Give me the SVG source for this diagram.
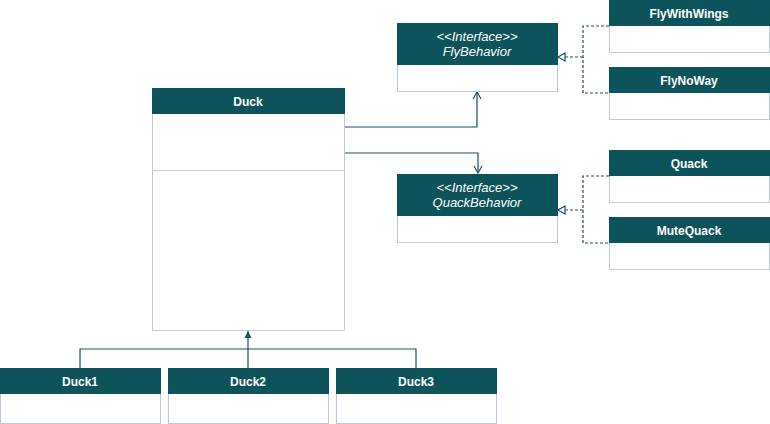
<svg xmlns="http://www.w3.org/2000/svg" width="770" height="424" viewBox="0 0 770 424">
<style>
.b{fill:#fff;stroke:#bccbd6;stroke-width:1}
.h{fill:#0d535b}
.t{fill:#fff;font-family:"Liberation Sans",Arial,sans-serif;font-size:12px;font-weight:bold;text-anchor:middle}
.i{fill:#fff;font-family:"Liberation Sans",Arial,sans-serif;font-size:13px;font-style:italic;text-anchor:middle}
.c{fill:none;stroke:#15506a;stroke-width:1.2}
.d{fill:none;stroke:#15506a;stroke-width:1.2;stroke-dasharray:3,2}
</style>
<defs>
<marker id="open" markerWidth="10" markerHeight="10" refX="8" refY="5" orient="auto" markerUnits="userSpaceOnUse"><path d="M1,1 L8,5 L1,9" fill="none" stroke="#15506a" stroke-width="1.2"/></marker>
<marker id="tri" markerWidth="10" markerHeight="10" refX="8" refY="5" orient="auto" markerUnits="userSpaceOnUse"><path d="M1,1 L8,5 L1,9 Z" fill="#fff" stroke="#15506a" stroke-width="1.2"/></marker>
<marker id="fill" markerWidth="10" markerHeight="10" refX="8" refY="5" orient="auto" markerUnits="userSpaceOnUse"><path d="M1,1.5 L8,5 L1,8.5 Z" fill="#15506a"/></marker>
</defs>
<g id="connectors">
<path class="c" d="M345,127 H477 V92" marker-end="url(#open)"/>
<path class="c" d="M345,153 H478 V173" marker-end="url(#open)"/>
<path class="d" d="M609,26 H583 V93 H609"/>
<path class="d" d="M583,57 H558" marker-end="url(#tri)"/>
<path class="d" d="M609,176 H583 V243 H609"/>
<path class="d" d="M583,210 H558" marker-end="url(#tri)"/>
<path class="c" d="M80,368 V349 H416 V368"/>
<path class="c" d="M248,368 V331" marker-end="url(#fill)"/>
</g>
<g id="FlyBehavior"><rect class="b" x="397.5" y="23.5" width="160" height="68"/><rect class="h" x="397" y="23" width="161" height="42"/><text class="i" x="477" y="41">&lt;&lt;Interface&gt;&gt;</text><text class="i" x="477" y="56">FlyBehavior</text></g>
<g id="QuackBehavior"><rect class="b" x="397.5" y="174.5" width="160" height="68"/><rect class="h" x="397" y="174" width="161" height="42"/><text class="i" x="477" y="192">&lt;&lt;Interface&gt;&gt;</text><text class="i" x="477" y="207">QuackBehavior</text></g>
<g id="FlyWithWings"><rect class="b" x="609.5" y="0.5" width="160" height="52"/><rect class="h" x="609" y="0" width="161" height="26"/><text class="t" x="689" y="18">FlyWithWings</text></g>
<g id="FlyNoWay"><rect class="b" x="609.5" y="67.5" width="160" height="52"/><rect class="h" x="609" y="67" width="161" height="26"/><text class="t" x="689" y="85">FlyNoWay</text></g>
<g id="Quack"><rect class="b" x="609.5" y="150.5" width="160" height="52"/><rect class="h" x="609" y="150" width="161" height="26"/><text class="t" x="689" y="168">Quack</text></g>
<g id="MuteQuack"><rect class="b" x="609.5" y="217.5" width="160" height="52"/><rect class="h" x="609" y="217" width="161" height="26"/><text class="t" x="689" y="235">MuteQuack</text></g>
<g id="Duck"><rect class="b" x="152.5" y="88.5" width="192" height="242"/><rect class="h" x="152" y="88" width="193" height="26"/><line x1="152" y1="170.5" x2="345" y2="170.5" stroke="#bccbd6"/><text class="t" x="248" y="106">Duck</text></g>
<g id="Duck1"><rect class="b" x="0.5" y="368.5" width="160" height="55"/><rect class="h" x="0" y="368" width="161" height="26"/><text class="t" x="80" y="386">Duck1</text></g>
<g id="Duck2"><rect class="b" x="168.5" y="368.5" width="160" height="55"/><rect class="h" x="168" y="368" width="161" height="26"/><text class="t" x="248" y="386">Duck2</text></g>
<g id="Duck3"><rect class="b" x="336.5" y="368.5" width="160" height="55"/><rect class="h" x="336" y="368" width="161" height="26"/><text class="t" x="416" y="386">Duck3</text></g>
</svg>
